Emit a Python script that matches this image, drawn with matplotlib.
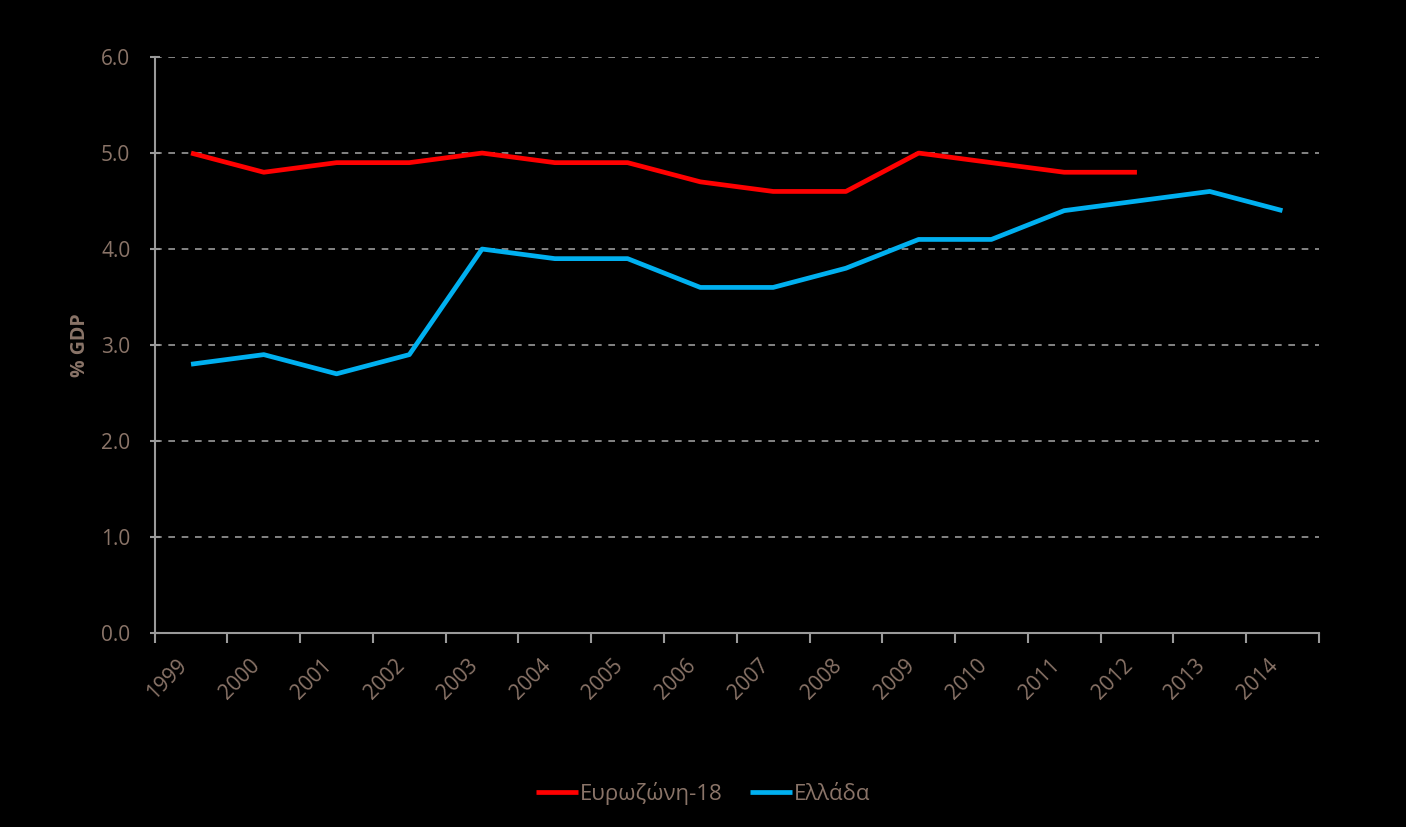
import matplotlib.pyplot as plt
import numpy as np

years = [str(y) for y in range(1999, 2015)]
eurozone = [5.0, 4.8, 4.9, 4.9, 5.0, 4.9, 4.9, 4.7, 4.6, 4.6, 5.0, 4.9, 4.8, 4.8]
greece = [2.8, 2.9, 2.7, 2.9, 4.0, 3.9, 3.9, 3.6, 3.6, 3.8, 4.1, 4.1, 4.4, 4.5, 4.6, 4.4]

TXT = '#8a7468'
AXC = '#9a9a9a'

plt.rcParams['font.family'] = ['Open Sans', 'DejaVu Sans']

fig = plt.figure(figsize=(14.06, 8.27), dpi=100, facecolor='black')
ax = fig.add_axes([0.110, 0.2346, 0.828, 0.6964], facecolor='black')

x = np.arange(len(years))
ax.plot(x[:len(eurozone)], eurozone, color='#ff0000', lw=3.4, label='Ευρωζώνη-18', solid_capstyle='butt')
ax.plot(x, greece, color='#00b0f0', lw=3.4, label='Ελλάδα', solid_capstyle='butt')

ax.set_xlim(-0.5, len(years) - 0.5)
ax.set_ylim(0, 6)
ax.set_yticks(np.arange(0, 6.01, 1.0))
ax.set_yticklabels([f"{v:.1f}" for v in np.arange(0, 6.01, 1.0)], color=TXT, fontsize=15)
ax.yaxis.grid(True, color=AXC, linestyle=(0, (4, 4)), lw=1.2)
ax.set_axisbelow(True)

ax.set_xticks(x)
ax.set_xticklabels(years, rotation=45, ha='right', color=TXT, fontsize=15)
ax.tick_params(axis='x', which='major', length=0, pad=16)
ax.set_xticks(np.arange(-0.5, len(years), 1.0), minor=True)
ax.tick_params(axis='x', which='minor', length=7, color=AXC, width=1.5)
ax.tick_params(axis='y', length=7, color=AXC, width=1.5, direction='inout', pad=14)

for s in ['top', 'right']:
    ax.spines[s].set_visible(False)
for s in ['left', 'bottom']:
    ax.spines[s].set_color(AXC)
    ax.spines[s].set_linewidth(1.5)

ax.set_ylabel('% GDP', color=TXT, fontsize=14, fontweight='bold', labelpad=8)

leg = fig.legend(loc='center', bbox_to_anchor=(0.5, 0.041), ncol=2, frameon=False,
                 fontsize=16, handlelength=1.9, handletextpad=0.1, columnspacing=1.2)
for t in leg.get_texts():
    t.set_color(TXT)

fig.savefig('out.png', dpi=100, facecolor='black')
